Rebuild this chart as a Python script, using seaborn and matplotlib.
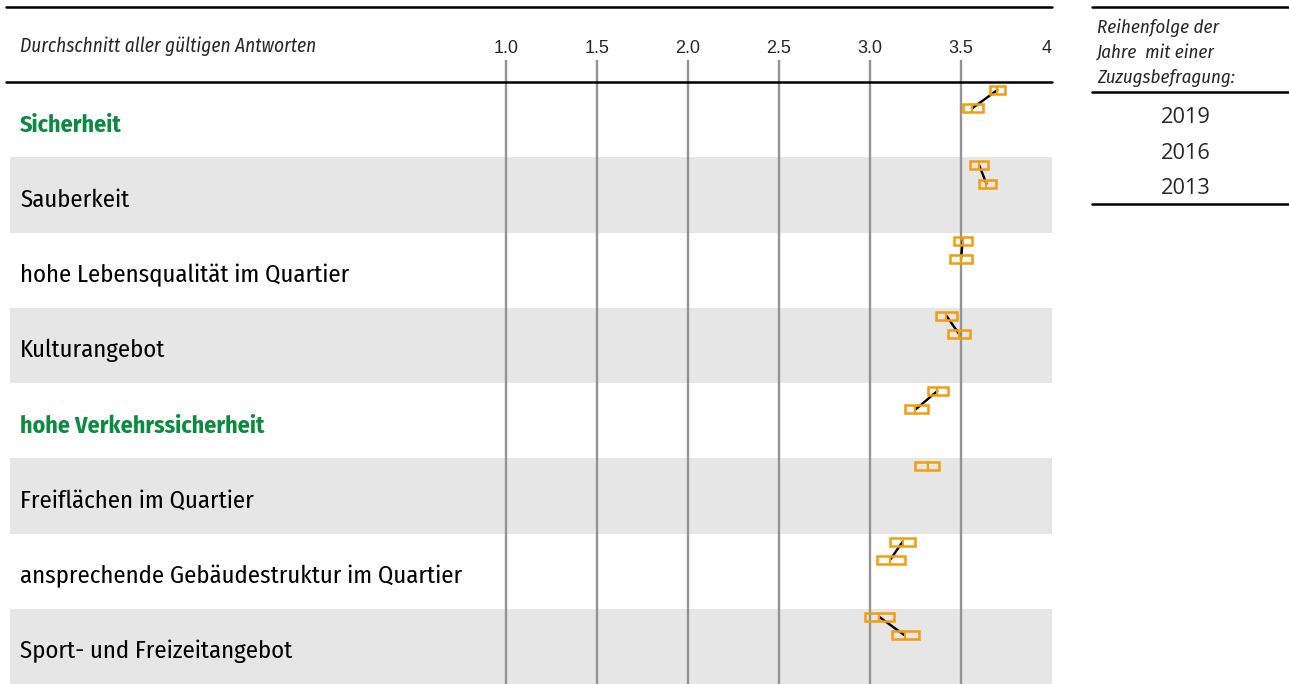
import matplotlib
matplotlib.use("Agg")
import matplotlib.pyplot as plt
from matplotlib.patches import Rectangle
from matplotlib.lines import Line2D
import pandas as pd
import seaborn as sns

# ---------------- data ----------------
categories = [
    "Sicherheit",
    "Sauberkeit",
    "hohe Lebensqualität im Quartier",
    "Kulturangebot",
    "hohe Verkehrssicherheit",
    "Freiflächen im Quartier",
    "ansprechende Gebäudestruktur im Quartier",
    "Sport- und Freizeitangebot",
]
highlighted = ["Sicherheit", "hohe Verkehrssicherheit"]
years = [2019, 2016, 2013]

# means and interval bounds per year (None = no value)
mean_2019 = [3.70, 3.60, 3.51, 3.42, 3.37, 3.32, 3.18, 3.05]
low_2019 = [3.66, 3.55, 3.46, 3.36, 3.32, 3.25, 3.11, 2.97]
high_2019 = [3.74, 3.65, 3.56, 3.48, 3.43, 3.38, 3.25, 3.13]

mean_2016 = [3.56, 3.64, 3.50, 3.49, 3.25, None, 3.11, 3.19]
low_2016 = [3.51, 3.60, 3.44, 3.43, 3.19, None, 3.04, 3.12]
high_2016 = [3.62, 3.69, 3.56, 3.55, 3.32, None, 3.19, 3.27]

tick_values = [1.0, 1.5, 2.0, 2.5, 3.0, 3.5, 4.0]
tick_labels = ["1.0", "1.5", "2.0", "2.5", "3.0", "3.5", "4"]

axis_title = "Durchschnitt aller gültigen Antworten"
legend_title = ["Reihenfolge der", "Jahre  mit einer", "Zuzugsbefragung:"]

# ---------------- styling ----------------
sns.set_theme(style="white")
FONT = ["Fira Sans Condensed", "Open Sans", "DejaVu Sans"]
plt.rcParams["font.family"] = FONT

W, H = 1289, 684
fig = plt.figure(figsize=(W / 100, H / 100), dpi=100)

ax_left, ax_right, ax_top = 10, 1052, 82
ax = fig.add_axes([ax_left / W, 0, (ax_right - ax_left) / W, (H - ax_top) / H])
ax.set_xlim(-1.725, 4.0)
ax.set_ylim(len(categories), 0)
ax.axis("off")

band = "#e6e6e6"
orange = "#f39c0c"
green = "#0b8a40"
grid_c = "#939393"

for i in range(len(categories)):
    if i % 2 == 1:
        ax.axhspan(i, i + 1, color=band, lw=0, zorder=0)

hdr = 22 / ((H - ax_top) / len(categories))  # header tick length in row units
ax.vlines(tick_values[:-1], -hdr, len(categories), color=grid_c, lw=1.7,
          zorder=1, clip_on=False)

for v, lab in zip(tick_values, tick_labels):
    ax.text(v, -0.39, lab, ha="center" if v < 4 else "right", va="baseline",
            fontsize=13, family=["Liberation Sans", "DejaVu Sans"], clip_on=False)

# category labels
for i, c in enumerate(categories):
    hl = c in highlighted
    ax.text(-1.67, i + 0.66, c, ha="left", va="baseline",
            fontsize=17.2 if hl else 17.8,
            color=green if hl else "black",
            fontweight="bold" if hl else "normal")

# long format data
slot = {2019: 0.107, 2016: 0.352, 2013: 0.597}
rows = []
for i, c in enumerate(categories):
    for yr, m, lo, hi in [(2019, mean_2019[i], low_2019[i], high_2019[i]),
                          (2016, mean_2016[i], low_2016[i], high_2016[i])]:
        if m is None:
            continue
        rows.append(dict(cat=c, year=yr, mean=m, lo=lo, hi=hi, ypos=i + slot[yr]))
df = pd.DataFrame(rows)

sns.lineplot(data=df, x="mean", y="ypos", units="cat", estimator=None,
             sort=False, color="black", lw=1.7, ax=ax, legend=False, zorder=3)

rh = 0.106
for _, r in df.iterrows():
    ax.add_patch(Rectangle((r["lo"], r["ypos"] - rh / 2), r["hi"] - r["lo"], rh,
                           facecolor="none", edgecolor=orange, lw=1.8, zorder=4))
ax.vlines(df["mean"], df["ypos"] - rh / 2, df["ypos"] + rh / 2,
          color=orange, lw=1.5, zorder=4)
ax.set_xlabel("")
ax.set_ylabel("")

# header lines and title
def hline(x0, x1, y, lw=1.8):
    fig.add_artist(Line2D([x0 / W, x1 / W], [1 - y / H, 1 - y / H],
                          color="black", lw=lw))

hline(6, 1052, 7)
hline(6, 1052, 82)
fig.text(20 / W, 1 - 51.5 / H, axis_title, ha="left", va="baseline",
         fontsize=13.9, style="italic")

# legend block
hline(1092, 1289, 7)
hline(1092, 1289, 92)
hline(1092, 1289, 204)
for k, (line, yb) in enumerate(zip(legend_title, [33, 58, 83])):
    fig.text(1097 / W, 1 - yb / H, line, ha="left", va="baseline",
             fontsize=13.6, style="italic")
for k, yb in enumerate([123.3, 159, 194.5]):
    fig.text(1186 / W, 1 - yb / H, str(years[k]), ha="center", va="baseline",
             fontsize=15.7, family=["Open Sans", "DejaVu Sans"])

fig.savefig("out.png", dpi=100)
